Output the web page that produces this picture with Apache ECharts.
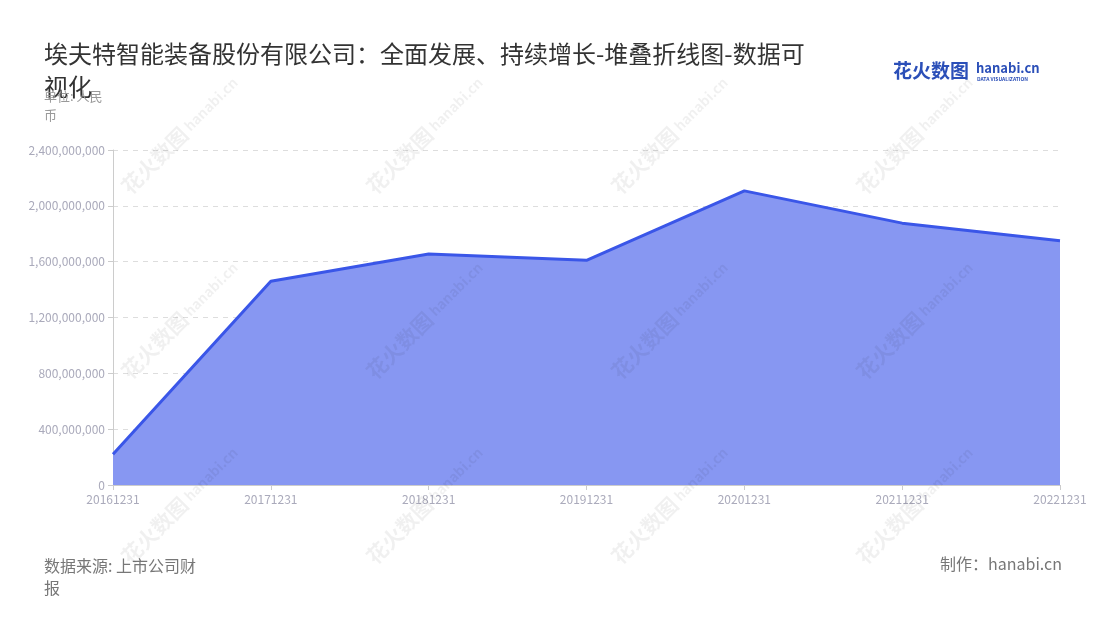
<!DOCTYPE html>
<html lang="zh">
<head>
    <meta charset="UTF-8">
    <title>埃夫特智能装备股份有限公司</title>
    <script src="https://cdn.jsdelivr.net/npm/echarts@6/dist/echarts.min.js"></script>
    <style>
        html, body { margin: 0; padding: 0; background: #fff; }
        #chart { width: 1100px; height: 620px; }
    </style>
</head>
<body>
<div id="chart"></div>
<script type="text/javascript">
    // 数据
    var years = ['20161231', '20171231', '20181231', '20191231', '20201231', '20211231', '20221231']
    var revenue = [220000000, 1459000000, 1655000000, 1610000000, 2107000000, 1876000000, 1750000000]
    var yTicks = { min: 0, max: 2400000000, interval: 400000000 }

    var font = '"Noto Sans CJK SC", "Noto Sans", sans-serif'

    // 水印
    var marks = []
    var markX = [180, 425, 670, 915], markY = [135, 320, 505]
    for (var i = 0; i < markX.length; i++) {
        for (var j = 0; j < markY.length; j++) {
            marks.push({
                type: 'text',
                x: markX[i], y: markY[j],
                rotation: Math.PI / 4,
                z: 100,
                style: {
                    text: '{a|花火数图} {b|hanabi.cn}',
                    rich: {
                        a: { fontSize: 21, fontWeight: 'bold', fontFamily: font, fill: 'rgba(0,0,0,0.06)', color: 'rgba(0,0,0,0.06)' },
                        b: { fontSize: 14, fontWeight: 'bold', fontFamily: font, fill: 'rgba(0,0,0,0.06)', color: 'rgba(0,0,0,0.06)' }
                    },
                    align: 'center',
                    verticalAlign: 'middle'
                }
            })
        }
    }

    var option = {
        textStyle: { fontFamily: font },
        title: [
            {
                text: '埃夫特智能装备股份有限公司：全面发展、持续增长-堆叠折线图-数据可\n视化',
                left: 44, top: 37, padding: 0,
                textStyle: { fontSize: 24, fontWeight: 'normal', color: '#333', lineHeight: 33 }
            },
            {
                text: '单位: 人民\n币',
                left: 44, top: 87, padding: 0,
                textStyle: { fontSize: 13, fontWeight: 'normal', color: '#999', lineHeight: 19 }
            },
            {
                text: '数据来源: 上市公司财\n报',
                left: 44, top: 555, padding: 0,
                textStyle: { fontSize: 16, fontWeight: 'normal', color: '#777', lineHeight: 22 }
            },
            {
                text: '制作：hanabi.cn',
                right: 38, top: 556, padding: 0,
                textStyle: { fontSize: 16, fontWeight: 'normal', color: '#777' }
            }
        ],
        graphic: marks.concat([
            {
                type: 'text', left: 893, top: 61,
                style: { text: '花火数图', font: 'bold 19px ' + font, fill: '#2b4fb8' }
            },
            {
                type: 'text', left: 976, top: 62,
                style: { text: 'hanabi.cn', font: 'bold 13px ' + font, fill: '#2b4fb8' }
            },
            {
                type: 'text', left: 977, top: 77,
                style: { text: 'DATA VISUALIZATION', font: 'bold 5px ' + font, fill: '#2b4fb8' }
            }
        ]),
        grid: {
            left: 113,
            right: 40,
            top: 150,
            bottom: 135
        },
        xAxis: {
            type: 'category',
            boundaryGap: false,
            data: years,
            axisLine: { lineStyle: { color: '#ccc' } },
            axisTick: { lineStyle: { color: '#ccc' } },
            axisLabel: { color: '#aab', fontSize: 12, margin: 8, interval: 0 }
        },
        yAxis: {
            type: 'value',
            min: yTicks.min,
            max: yTicks.max,
            interval: yTicks.interval,
            axisLine: { show: true, lineStyle: { color: '#ccc' } },
            axisTick: { show: true, lineStyle: { color: '#ccc' } },
            axisLabel: {
                color: '#aab', fontSize: 12,
                formatter: function (v) { return v.toLocaleString('en-US') }
            },
            splitLine: { lineStyle: { color: '#ddd', type: [5, 5] } }
        },
        series: [
            {
                name: '营业收入',
                type: 'line',
                stack: 'Total',
                data: revenue,
                symbol: 'none',
                lineStyle: { color: '#3a56e8', width: 3 },
                itemStyle: { color: '#3a56e8' },
                areaStyle: { color: '#8797f2', opacity: 1 }
            }
        ]
    };

    var myChart = echarts.init(document.getElementById('chart'));
    myChart.setOption(option);
</script>
</body>
</html>
